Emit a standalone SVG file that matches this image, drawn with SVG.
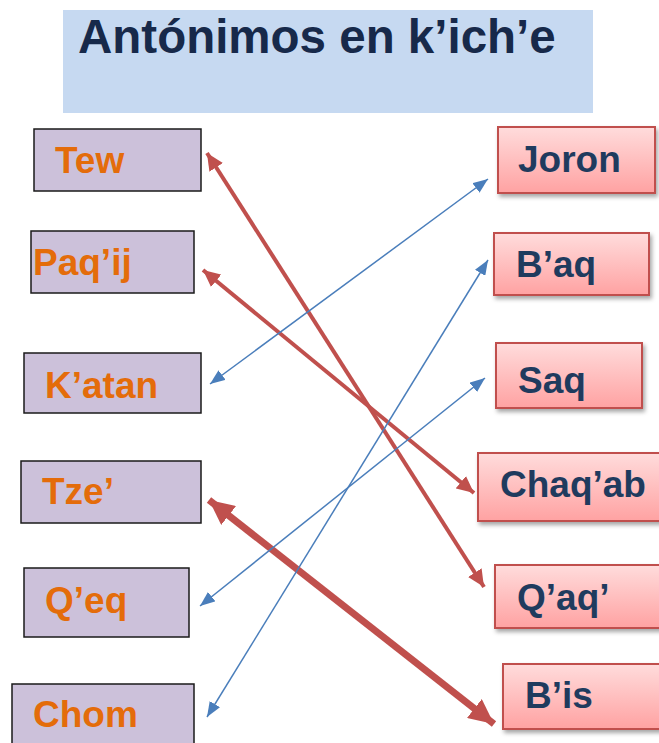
<svg xmlns="http://www.w3.org/2000/svg" width="659" height="743" viewBox="0 0 659 743">
<defs>
<style>
.l rect{fill:#ccc1da;stroke:#1a1a1a;stroke-width:1.5}
.l text{font-family:"Liberation Sans",Arial,sans-serif;font-weight:bold;font-size:37px;fill:#e46c0a}
.r rect{fill:url(#pk);stroke:#c0504d;stroke-width:2;filter:url(#sh)}
.r text{font-family:"Liberation Sans",Arial,sans-serif;font-weight:bold;font-size:37px;fill:#1f3b5e}
.blue{stroke:#4a7ebb;stroke-width:1.5;fill:none;marker-start:url(#ab);marker-end:url(#ab)}
.red{stroke:#c0504d;stroke-width:4;fill:none;marker-start:url(#ar);marker-end:url(#ar)}
.red2{stroke:#c0504d;stroke-width:7;fill:none;marker-start:url(#ar2);marker-end:url(#ar2)}
</style>
<linearGradient id="pk" x1="0" y1="0" x2="0" y2="1">
<stop offset="0" stop-color="#ffdcdc"/>
<stop offset="1" stop-color="#ffa2a2"/>
</linearGradient>
<filter id="sh" x="-10%" y="-10%" width="130%" height="140%">
<feDropShadow dx="2" dy="3" stdDeviation="2" flood-color="#000" flood-opacity="0.35"/>
</filter>
<marker id="ab" markerUnits="userSpaceOnUse" markerWidth="16" markerHeight="12" refX="15" refY="6" orient="auto-start-reverse">
<path d="M0,0 L15,6 L0,12 Z" fill="#4a7ebb"/>
</marker>
<marker id="ar" markerUnits="userSpaceOnUse" markerWidth="18" markerHeight="16" refX="17" refY="8" orient="auto-start-reverse">
<path d="M0,0 L17,8 L0,16 Z" fill="#c0504d"/>
</marker>
<marker id="ar2" markerUnits="userSpaceOnUse" markerWidth="26" markerHeight="24" refX="25" refY="12" orient="auto-start-reverse">
<path d="M0,0 L25,12 L0,24 Z" fill="#c0504d"/>
</marker>
</defs>
<rect width="659" height="743" fill="#fff"/>
<g id="title">
<rect x="63" y="10" width="530" height="103" fill="#c6d9f1"/>
<text x="78" y="53" font-family="'Liberation Sans',Arial,sans-serif" font-weight="bold" font-size="47.5" fill="#17294a">Antónimos en k’ich’e</text>
</g>
<g id="n-tew" class="l"><rect x="34" y="129" width="167" height="62"/><text x="55" y="173">Tew</text></g>
<g id="n-paqij" class="l"><rect x="31" y="231" width="163" height="62"/><text x="33" y="275">Paq’ij</text></g>
<g id="n-katan" class="l"><rect x="24" y="353" width="177" height="60"/><text x="45" y="398">K’atan</text></g>
<g id="n-tze" class="l"><rect x="21" y="461" width="180" height="62"/><text x="42" y="504">Tze’</text></g>
<g id="n-qeq" class="l"><rect x="24" y="568" width="165" height="69"/><text x="45" y="613">Q’eq</text></g>
<g id="n-chom" class="l"><rect x="12" y="684" width="182" height="70"/><text x="33" y="727">Chom</text></g>
<g id="n-joron" class="r"><rect x="498" y="127" width="157" height="66"/><text x="518" y="172">Joron</text></g>
<g id="n-baq" class="r"><rect x="494" y="233" width="155" height="62"/><text x="516" y="277">B’aq</text></g>
<g id="n-saq" class="r"><rect x="496" y="343" width="146" height="65"/><text x="518" y="393">Saq</text></g>
<g id="n-chaqab" class="r"><rect x="478" y="453" width="190" height="68"/><text x="500" y="497">Chaq’ab</text></g>
<g id="n-qaq" class="r"><rect x="495" y="565" width="175" height="63"/><text x="517" y="610">Q’aq’</text></g>
<g id="n-bis" class="r"><rect x="503" y="664" width="170" height="65"/><text x="525" y="708">B’is</text></g>
<g id="connectors">
<line class="red" x1="207" y1="153" x2="484" y2="587"/>
<line class="red" x1="203" y1="270" x2="474" y2="493"/>
<line class="red2" x1="209" y1="500" x2="494" y2="724"/>
<line class="blue" x1="488" y1="179" x2="210" y2="384"/>
<line class="blue" x1="488" y1="260" x2="207" y2="717"/>
<line class="blue" x1="485" y1="378" x2="200" y2="606"/>
</g>
</svg>
